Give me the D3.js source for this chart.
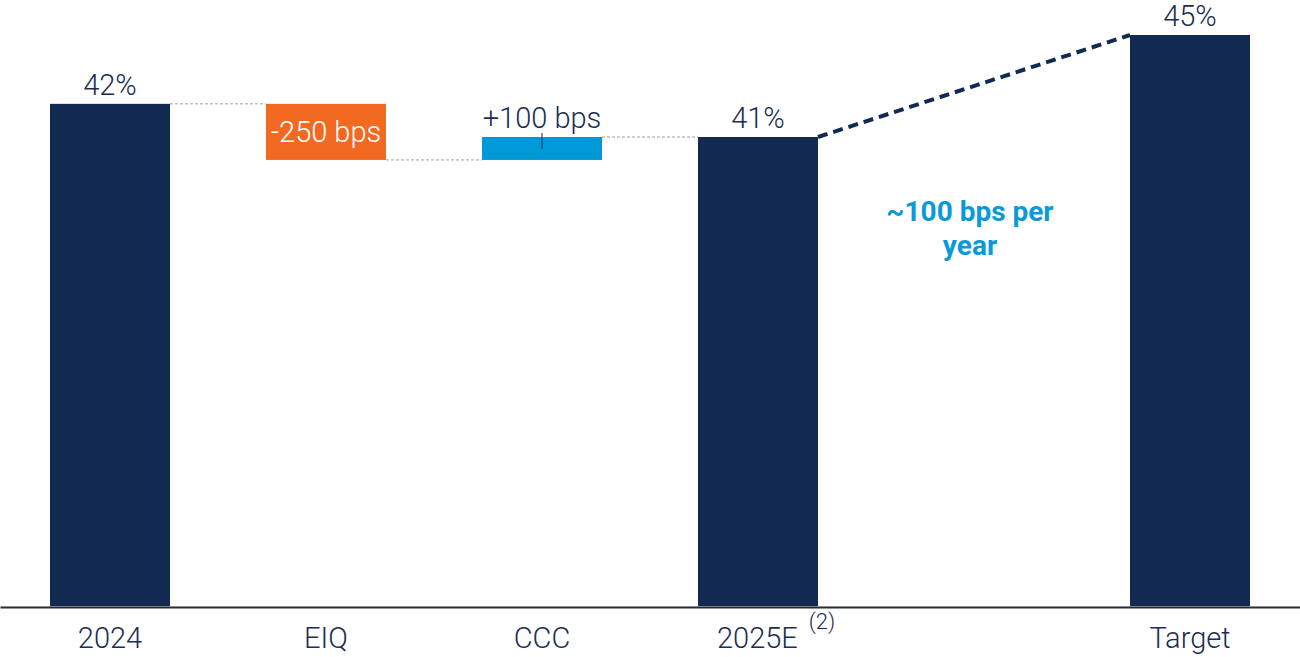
<!DOCTYPE html>
<html><head><meta charset="utf-8">
<script src="https://cdn.jsdelivr.net/npm/d3@7"></script>
<style>body{margin:0;background:#fff;overflow:hidden} svg{display:block}</style>
</head><body>
<script>
// ---- data ----
const categories = ["2024", "EIQ", "CCC", "2025E", "Target"];
const slots = ["2024", "EIQ", "CCC", "2025E", "gap", "Target"];
const kinds = ["total", "delta", "delta", "total", "total"];
const values = [42.3, -2.2, 0.9, 41.0, 45.0];
const valueLabels = ["42%", "-250 bps", "+100 bps", "41%", "45%"];
const superscripts = ["", "", "", "(2)", ""];
const yDomain = [22.6, 45];
const annotationLines = ["~100 bps per", "year"];

// ---- setup ----
const W = 1300, H = 657;
const textNavy = "#1b2d52";
const colors = {total: "#122a52", neg: "#f26922", pos: "#0098d7"};
const labelFont = "300 29px Roboto";
const svg = d3.select("body").append("svg").attr("width", W).attr("height", H);

const x = d3.scaleBand().domain(slots).range([0, 1300])
  .paddingInner(96 / 216).paddingOuter(50 / 216);
const y = d3.scaleLinear().domain(yDomain).range([606.2, 35]);
const bw = x.bandwidth();

// waterfall computation
let running = yDomain[0];
const bars = categories.map((c, i) => {
  let start, end;
  if (kinds[i] === "total") { start = yDomain[0]; end = values[i]; }
  else { start = running; end = running + values[i]; }
  running = end;
  return {c, i, start, end, kind: kinds[i], v: values[i], label: valueLabels[i]};
});

// thin connectors
for (let i = 0; i < 3; i++) {
  const b = bars[i];
  svg.append("line")
    .attr("x1", x(b.c) + bw).attr("x2", x(bars[i + 1].c))
    .attr("y1", y(b.end)).attr("y2", y(b.end))
    .attr("stroke", "#a0a0a0").attr("stroke-width", 1)
    .attr("stroke-dasharray", "3,2");
}

// bars
svg.selectAll("rect.bar").data(bars).enter().append("rect")
  .attr("class", "bar")
  .attr("x", d => x(d.c)).attr("width", bw)
  .attr("y", d => y(Math.max(d.start, d.end)))
  .attr("height", d => Math.abs(y(d.start) - y(d.end)))
  .attr("fill", d => d.kind === "total" ? colors.total : (d.v < 0 ? colors.neg : colors.pos));

// small vertical marker in CCC bar
const ccc = bars[2];
svg.append("line")
  .attr("x1", x(ccc.c) + bw / 2).attr("x2", x(ccc.c) + bw / 2)
  .attr("y1", y(ccc.end) - 4).attr("y2", y(ccc.start) - 11)
  .attr("stroke", "#1b2d52").attr("stroke-width", 1);

// value labels
bars.forEach(d => {
  const cx = x(d.c) + bw / 2;
  if (d.kind === "delta" && d.v < 0) {
    svg.append("text").attr("x", cx)
      .attr("y", (y(d.start) + y(d.end)) / 2 + 10)
      .attr("text-anchor", "middle").attr("fill", "#fff")
      .style("font", labelFont).text(d.label);
  } else {
    svg.append("text").attr("x", cx)
      .attr("y", y(Math.max(d.start, d.end)) - 9)
      .attr("text-anchor", "middle").attr("fill", textNavy)
      .style("font", labelFont).text(d.label);
  }
});

// thick dashed trend line
const b25 = bars[3], bT = bars[4];
svg.append("line")
  .attr("x1", x(b25.c) + bw).attr("y1", y(b25.end))
  .attr("x2", x(bT.c)).attr("y2", y(bT.end))
  .attr("stroke", colors.total).attr("stroke-width", 4)
  .attr("stroke-dasharray", "10,6");

// annotation
const ax = (x(b25.c) + bw + x(bT.c)) / 2 - 4;
svg.append("text").attr("x", ax).attr("y", 221)
  .attr("text-anchor", "middle").attr("fill", "#0a9ad7")
  .style("font", "bold 28px Roboto")
  .selectAll("tspan").data(annotationLines).enter().append("tspan")
  .attr("x", ax).attr("dy", (d, i) => i === 0 ? 0 : 34).text(d => d);

// x axis
const axis = svg.append("g").attr("transform", "translate(0,607)")
  .call(d3.axisBottom(x).tickSize(0).tickSizeOuter(0)
    .tickFormat(d => d === "gap" ? "" : d));
axis.select(".domain").attr("stroke", "#2a2a2a").attr("stroke-width", 2);
axis.selectAll(".tick text").attr("y", 41).attr("dy", 0)
  .attr("fill", textNavy).style("font", labelFont)
  .each(function(d) {
    const idx = categories.indexOf(d);
    if (idx >= 0 && superscripts[idx]) {
      d3.select(this).append("tspan").attr("dx", 11).attr("dy", -19)
        .style("font-size", "22px").text(superscripts[idx]);
    }
  });
// keep main label centered on its bar, superscript hangs to the right
axis.selectAll(".tick text").filter(d => superscripts[categories.indexOf(d)])
  .attr("text-anchor", "start")
  .attr("x", -41);
</script>
</body></html>
